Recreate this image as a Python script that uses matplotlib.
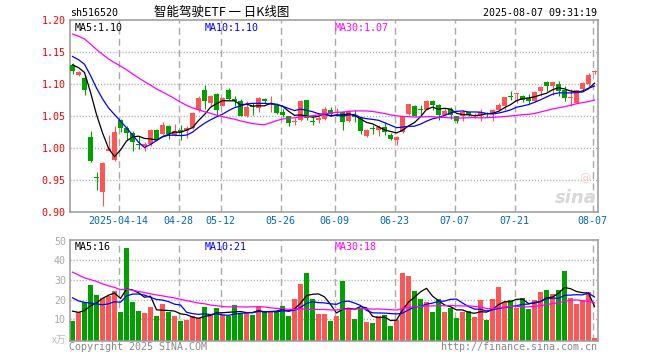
import matplotlib
matplotlib.use('Agg')
import matplotlib.pyplot as plt
import numpy as np

# daily bars, 2025-04-01 .. 2025-08-07
open_ = [1.130, 1.1145, 1.109, 1.017, 0.954, 0.932, 0.996, 0.982, 1.044, 1.032,
         1.023, 1.005, 1.0025, 1.007, 1.0286, 1.022, 1.035, 1.021, 1.0286, 1.026,
         1.031, 1.060, 1.091, 1.070, 1.085, 1.066, 1.091, 1.0765, 1.074, 1.050,
         1.066, 1.0625, 1.077, 1.0685, 1.0677, 1.057, 1.0495, 1.040, 1.043, 1.0745,
         1.0422, 1.0432, 1.046, 1.060, 1.0547, 1.0568, 1.042, 1.051, 1.047, 1.019,
         1.032, 1.0286, 1.033, 1.0208, 1.012, 1.0245, 1.053, 1.066, 1.0594, 1.060,
         1.074, 1.0677, 1.051, 1.061, 1.0495, 1.0495, 1.0563, 1.0495, 1.052, 1.054,
         1.053, 1.060, 1.066, 1.080, 1.0838, 1.0818, 1.078, 1.073, 1.0885, 1.1026,
         1.0974, 1.100, 1.090, 1.0786, 1.0703, 1.0922, 1.1005, 1.1182]
close_ = [1.120, 1.118, 1.090, 0.980, 0.953, 0.977, 0.998, 1.0245, 1.032, 1.023,
          1.009, 1.004, 1.0067, 1.0286, 1.013, 1.036, 1.022, 1.026, 1.0245, 1.032,
          1.054, 1.078, 1.073, 1.081, 1.060, 1.078, 1.0765, 1.073, 1.0505, 1.064,
          1.064, 1.078, 1.073, 1.070, 1.0547, 1.051, 1.039, 1.0405, 1.073, 1.047,
          1.041, 1.047, 1.061, 1.053, 1.0568, 1.040, 1.057, 1.048, 1.026, 1.0286,
          1.0297, 1.0328, 1.0245, 1.014, 1.017, 1.0495, 1.068, 1.0505, 1.0588, 1.074,
          1.0677, 1.052, 1.058, 1.052, 1.0417, 1.057, 1.051, 1.051, 1.0557, 1.053,
          1.060, 1.067, 1.079, 1.0795, 1.0844, 1.0755, 1.073, 1.087, 1.0948, 1.0974,
          1.1026, 1.0885, 1.078, 1.0792, 1.090, 1.1016, 1.1146, 1.1208]
high_ = [1.133, 1.121, 1.1145, 1.026, 0.963, 0.978, 1.021, 1.035, 1.046, 1.034,
         1.026, 1.019, 1.010, 1.030, 1.030, 1.040, 1.036, 1.038, 1.036, 1.035,
         1.057, 1.081, 1.099, 1.083, 1.086, 1.080, 1.094, 1.082, 1.076, 1.073,
         1.071, 1.079, 1.078, 1.081, 1.071, 1.061, 1.0505, 1.047, 1.0745, 1.0755,
         1.0495, 1.0495, 1.0635, 1.064, 1.062, 1.058, 1.060, 1.060, 1.049, 1.0297,
         1.0365, 1.0364, 1.040, 1.0234, 1.019, 1.0505, 1.069, 1.067, 1.0677, 1.0755,
         1.0755, 1.0688, 1.0625, 1.064, 1.0505, 1.060, 1.057, 1.054, 1.061, 1.057,
         1.061, 1.071, 1.080, 1.0885, 1.086, 1.0833, 1.085, 1.0885, 1.0964, 1.104,
         1.103, 1.104, 1.0974, 1.092, 1.091, 1.1026, 1.117, 1.1213]
low_ = [1.115, 1.112, 1.083, 0.978, 0.934, 0.909, 0.995, 0.980, 1.0245, 1.012,
        0.995, 0.998, 0.996, 1.0025, 1.012, 1.021, 1.014, 1.018, 1.013, 1.0156,
        1.030, 1.057, 1.061, 1.065, 1.052, 1.065, 1.075, 1.065, 1.0495, 1.049,
        1.052, 1.057, 1.070, 1.056, 1.0536, 1.049, 1.034, 1.036, 1.0417, 1.044,
        1.036, 1.039, 1.044, 1.0505, 1.050, 1.0276, 1.0405, 1.040, 1.0224, 1.017,
        1.0224, 1.019, 1.0208, 1.012, 1.0052, 1.0234, 1.052, 1.0495, 1.0505, 1.059,
        1.0599, 1.044, 1.0495, 1.045, 1.039, 1.0417, 1.0495, 1.047, 1.0417, 1.048,
        1.0427, 1.0573, 1.060, 1.0745, 1.070, 1.0714, 1.069, 1.0714, 1.081, 1.0896,
        1.0833, 1.081, 1.073, 1.066, 1.068, 1.091, 1.0953, 1.1161]
volume = [9.3, 13.9, 18.8, 27.6, 22.4, 20.8, 21.9, 24.4, 13.7, 46.3,
          18.8, 14.4, 13.2, 16.3, 11.7, 17.8, 13.7, 11.7, 9.3, 9.7,
          11.7, 10.5, 16.3, 12.2, 15.8, 12.2, 11.7, 17.3, 13.0, 13.2,
          12.2, 16.8, 14.2, 13.7, 14.2, 16.8, 11.7, 20.3, 28.0, 33.6,
          20.3, 12.7, 12.7, 9.0, 11.7, 29.7, 15.3, 10.2, 15.8, 8.6,
          8.1, 11.7, 12.2, 6.6, 9.7, 33.6, 32.0, 24.4, 20.3, 18.8,
          13.7, 20.3, 13.7, 15.8, 10.7, 13.7, 14.2, 11.2, 19.8, 9.7,
          20.3, 26.4, 18.8, 19.8, 15.8, 20.8, 15.3, 19.8, 23.9, 24.9,
          22.9, 24.9, 34.6, 20.8, 17.8, 19.8, 23.9, 0.5]

# March sessions, only needed to warm up the moving averages
prior_close = [1.215, 1.222, 1.218, 1.210, 1.205, 1.212, 1.198, 1.192,
               1.196, 1.201, 1.190, 1.185, 1.192, 1.188, 1.180, 1.176, 1.184, 1.190, 1.181, 1.175,
               1.168, 1.162, 1.155, 1.150, 1.145,
               1.140, 1.128, 1.135, 1.127]
prior_volume = [58, 62, 55, 50, 57, 52, 48, 50,
                38, 35, 33, 30, 36, 28, 32, 30, 27, 31, 29, 30,
                30, 26, 31, 27, 25,
                17, 14, 16, 14.7]

tick_idx = [8, 18, 25, 35, 44, 54, 64, 74, 87]
tick_labels = ['2025-04-14', '04-28', '05-12', '05-26', '06-09', '06-23', '07-07', '07-21', '08-07']

RED = '#FF5555'
GREEN = '#00A000'
GRID = '#AAAAAA'
MONO = 'DejaVu Sans Mono'


def rolling_mean(values, prior, n):
    full = np.concatenate([prior, values])
    out = np.convolve(full, np.ones(n) / n, mode='valid')
    return out[-len(values):]


def style_axes(ax):
    for s in ax.spines.values():
        s.set_color('#999999')
        s.set_linewidth(1.1)
    ax.tick_params(length=0, pad=3)
    for t in tick_idx:
        ax.axvline(t - 0.33, color=GRID, lw=1.0, linestyle=(0, (5, 3)), zorder=0)


x = np.arange(len(close_))
o = np.array(open_)
c = np.array(close_)
h = np.array(high_)
l = np.array(low_)
v = np.array(volume)
colors = [RED if c[i] >= o[i] else GREEN for i in range(len(c))]

fig = plt.figure(figsize=(6.6, 3.6), dpi=100)
W, H = 660.0, 360.0
ax = fig.add_axes([70 / W, 1 - 212 / H, 527.5 / W, 192 / H])
axv = fig.add_axes([70 / W, 1 - 340.5 / H, 527.5 / W, 100.5 / H])

# price panel
style_axes(ax)
ax.set_xlim(-0.42, 87.5)
ax.set_ylim(0.90, 1.20)
for yy in [0.95, 1.00, 1.05, 1.10, 1.15]:
    ax.axhline(yy, color=GRID, lw=1.0, linestyle=(0, (0.8, 1.4)), zorder=0)
body_h = np.maximum(np.abs(c - o), 0.0016)
ax.vlines(x, l, h, colors=colors, lw=0.8, zorder=2)
ax.bar(x, body_h, bottom=np.minimum(o, c), width=0.83, color=colors, zorder=3)

ma5 = rolling_mean(c, prior_close, 5)
ma10 = rolling_mean(c, prior_close, 10)
ma30 = rolling_mean(c, prior_close, 30)
ax.plot(x, ma5, color='black', lw=0.9, zorder=4)
ax.plot(x, ma10, color='#0000FF', lw=0.9, zorder=4)
ax.plot(x, ma30, color='#FF00FF', lw=0.9, zorder=4)

ax.set_yticks([0.90, 0.95, 1.00, 1.05, 1.10, 1.15, 1.20])
ax.set_yticklabels(['%.2f' % t for t in ax.get_yticks()], color='red', fontsize=7.2, family=MONO)
ax.set_xticks(np.array(tick_idx) - 0.33)
ax.set_xticklabels(tick_labels, color='#0066CC', fontsize=7.2, family=MONO)

ax.text(5 / 527.5, 0.985, 'MA5:%.2f' % ma5[-1], transform=ax.transAxes, va='top', fontsize=7.2, family=MONO, color='black')
ax.text(135 / 527.5, 0.985, 'MA10:%.2f' % ma10[-1], transform=ax.transAxes, va='top', fontsize=7.2, family=MONO, color='#0000FF')
ax.text(265 / 527.5, 0.985, 'MA30:%.2f' % ma30[-1], transform=ax.transAxes, va='top', fontsize=7.2, family=MONO, color='#FF00FF')

# sina watermark
ax.text(0.998, 0.025, 'sina', transform=ax.transAxes, ha='right', va='bottom', fontsize=13,
        fontweight='bold', fontstyle='italic', color='#D8D8D8', zorder=1)
ax.text(0.975, 0.15, '@', transform=ax.transAxes, ha='center', va='bottom', fontsize=8,
        color='#F4C8C8', zorder=1)

# volume panel
style_axes(axv)
axv.set_xlim(-0.42, 87.5)
axv.set_ylim(-0.7, 50.35)
for yy in [10, 20, 30, 40]:
    axv.axhline(yy, color=GRID, lw=1.0, linestyle=(0, (0.8, 1.4)), zorder=0)
axv.bar(x, v + 0.7, bottom=-0.7, width=0.83, color=colors, zorder=2)
vma5 = rolling_mean(v, prior_volume, 5)
vma10 = rolling_mean(v, prior_volume, 10)
vma30 = rolling_mean(v, prior_volume, 30)
axv.plot(x, vma5, color='black', lw=0.9, zorder=4)
axv.plot(x, vma10, color='#0000FF', lw=0.9, zorder=4)
axv.plot(x, vma30, color='#FF00FF', lw=0.9, zorder=4)
axv.set_xticks([])
axv.set_yticks([10, 20, 30, 40, 50])
axv.set_yticklabels(['10', '20', '30', '40', '50'], color='#AAAAAA', fontsize=7.2, family=MONO)

axv.text(5 / 527.5, 0.985, 'MA5:%d' % vma5[-1], transform=axv.transAxes, va='top', fontsize=7.2, family=MONO, color='black')
axv.text(135 / 527.5, 0.985, 'MA10:%d' % vma10[-1], transform=axv.transAxes, va='top', fontsize=7.2, family=MONO, color='#0000FF')
axv.text(265 / 527.5, 0.985, 'MA30:%d' % vma30[-1], transform=axv.transAxes, va='top', fontsize=7.2, family=MONO, color='#FF00FF')

# header / footer texts
fig.text(70 / W, 1 - 13 / H, 'sh516520', ha='left', va='center', fontsize=7.2, family=MONO, color='black')
fig.text(222 / W, 1 - 12 / H, '智能驾驶ETF 一 日K线图', ha='center', va='center', fontsize=9,
         family=['Noto Sans CJK SC', 'DejaVu Sans'], color='black')
fig.text(597 / W, 1 - 13 / H, '2025-08-07 09:31:19', ha='right', va='center', fontsize=7.2, family=MONO, color='black')
fig.text(66 / W, 1 - 340 / H, 'x万', ha='right', va='center', fontsize=7,
         family=['Noto Sans CJK SC', 'DejaVu Sans'], color='#BBBBBB')
fig.text(69 / W, 1 - 347 / H, 'Copyright 2025 SINA.COM', ha='left', va='center', fontsize=7.2, family=MONO, color='#888888')
fig.text(597 / W, 1 - 347 / H, 'http://finance.sina.com.cn', ha='right', va='center', fontsize=7.2, family=MONO, color='#888888')

fig.savefig('out.png', dpi=100, facecolor='white')
